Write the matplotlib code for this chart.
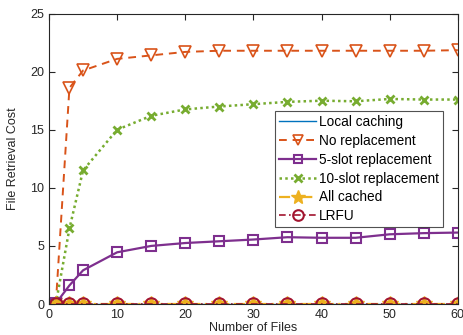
import numpy as np
import matplotlib
matplotlib.use("Agg")
import matplotlib.pyplot as plt

# ── Data ──────────────────────────────────────────────────────────────────────

files = [1, 3, 5, 10, 15, 20, 25, 30, 35, 40, 45, 50, 55, 60]

local_caching = [0] * len(files)
no_replacement = [0, 18.6, 20.1, 21.1, 21.4, 21.7, 21.8, 21.8, 21.8, 21.8, 21.8, 21.8, 21.8, 21.85]
slot5 = [0.05, 1.6, 2.9, 4.45, 5.0, 5.25, 5.4, 5.55, 5.75, 5.7, 5.7, 6.0, 6.1, 6.15]
slot10 = [0, 6.5, 11.5, 15.0, 16.2, 16.75, 17.0, 17.2, 17.4, 17.5, 17.45, 17.65, 17.6, 17.6]
all_cached = [0] * len(files)
lrfu = [0] * len(files)

# MATLAB default colours
BLUE   = (0.000, 0.447, 0.741)
ORANGE = (0.850, 0.325, 0.098)
YELLOW = (0.929, 0.694, 0.125)
PURPLE = (0.494, 0.184, 0.556)
GREEN  = (0.466, 0.674, 0.188)
DKRED  = (0.635, 0.078, 0.184)
AXCOL  = (0.15, 0.15, 0.15)

plt.rcParams["font.family"] = ["Liberation Sans", "DejaVu Sans"]

fig = plt.figure(figsize=(4.64, 3.35), dpi=100)
ax = fig.add_axes([0.1056, 0.0925, 0.881, 0.867])

ax.plot(files, local_caching, color=BLUE, lw=1.0, label="Local caching")
ax.plot(files, no_replacement, color=ORANGE, lw=1.4, ls=(0, (4, 3)),
        marker="v", ms=9, mfc="none", mec=ORANGE, mew=1.2, label="No replacement")
ax.plot(files, slot5, color=PURPLE, lw=1.6, ls="-",
        marker="s", ms=7, mfc="none", mec=PURPLE, mew=1.5, label="5-slot replacement")
ax.plot(files, slot10, color=GREEN, lw=1.8, ls=(0, (1, 1.3)),
        marker="x", ms=6, mec=GREEN, mew=2.0, label="10-slot replacement")
ax.plot(files, all_cached, color=YELLOW, lw=1.6, ls=(0, (5, 2, 1, 2)),
        marker="*", ms=12, mfc=YELLOW, mec=YELLOW, label="All cached")
ax.plot(files, lrfu, color=DKRED, lw=1.2, ls=(0, (4, 2, 1, 2)),
        marker="o", ms=9, mfc="none", mec=DKRED, mew=1.5, label="LRFU")

ax.set_xlim(0, 60)
ax.set_ylim(0, 25)
ax.set_xticks(np.arange(0, 61, 10))
ax.set_yticks(np.arange(0, 26, 5))
ax.tick_params(direction="in", top=True, right=True, labelsize=9,
               colors=AXCOL, length=4, width=0.8)
for sp in ax.spines.values():
    sp.set_color(AXCOL)
    sp.set_linewidth(0.8)

ax.set_xlabel("Number of Files", fontsize=9, color=AXCOL, labelpad=1)
ax.set_ylabel("File Retrieval Cost", fontsize=9, color=AXCOL, labelpad=8)

leg = ax.legend(loc="upper right", bbox_to_anchor=(0.963, 0.664), borderaxespad=0,
                fontsize=9.8, frameon=True, fancybox=False, handlelength=2.7,
                handletextpad=0.2, labelspacing=0.35, borderpad=0.3,
                markerscale=0.85)
leg.get_frame().set_edgecolor(AXCOL)
leg.get_frame().set_linewidth(0.8)

fig.savefig("out.png", dpi=100)
